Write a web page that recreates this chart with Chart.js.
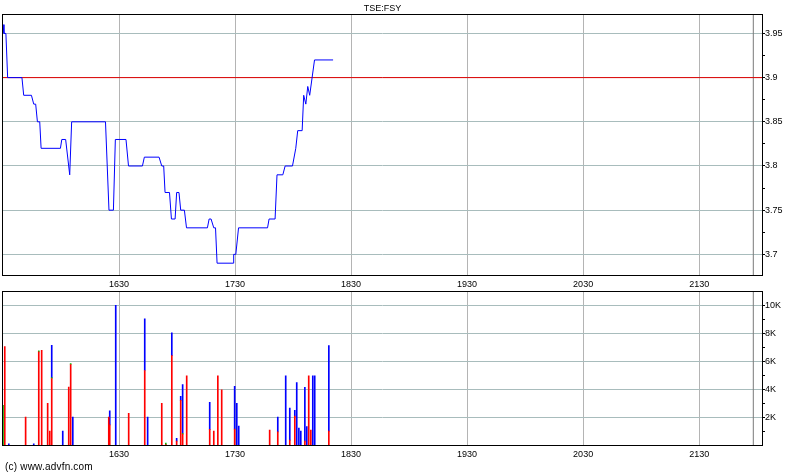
<!DOCTYPE html>
<html>
<head>
    <meta charset="UTF-8">
    <title>TSE:FSY</title>
    <script src="https://cdn.jsdelivr.net/npm/chart.js"></script>
    <style>
        body { margin: 0; background: #fff; width: 800px; height: 475px; position: relative; overflow: hidden; }
        #priceChart { position: absolute; left: 0; top: 0; }
        #volChart { position: absolute; left: 0; top: 286px; }
        #copy {
            position: absolute; left: 5px; top: 461px;
            font: 10px Arial, "Liberation Sans", sans-serif; color: #000; letter-spacing: 0.2px;
        }
    </style>
</head>
<body>
    <canvas id="priceChart" width="800" height="290"></canvas>
    <canvas id="volChart" width="800" height="189"></canvas>
    <div id="copy">(c) www.advfn.com</div>

    <script>
        // цены по сделкам
        const priceTimes = ["15:30:00","15:30:30","15:31:30","15:32:24","15:39:48","15:40:42","15:44:42","15:45:54","15:46:54","15:47:48",
            "15:49:00","15:49:42","15:59:42","16:00:24","16:02:24","16:04:30","16:05:30","16:23:00","16:24:48","16:27:06",
            "16:28:06","16:33:36","16:34:54","16:42:06","16:43:06","16:50:42","16:52:06","16:53:06","16:53:48","16:56:06",
            "16:57:06","16:59:00","16:59:48","17:01:00","17:01:54","17:03:48","17:04:54","17:15:42","17:16:36","17:17:36",
            "17:19:00","17:19:54","17:20:42","17:29:00","17:29:18","17:30:24","17:31:48","17:46:48","17:47:36","17:50:42",
            "17:51:42","17:54:42","17:55:54","17:59:42","18:01:24","18:02:24","18:04:42","18:05:30","18:06:36","18:07:36",
            "18:08:36","18:11:06","18:20:42"];
        const prices = [3.96,3.95,3.95,3.90,3.90,3.88,3.88,3.87,3.87,3.85,
            3.85,3.82,3.82,3.83,3.83,3.79,3.85,3.85,3.75,3.75,
            3.83,3.83,3.80,3.80,3.81,3.81,3.80,3.80,3.77,3.77,
            3.74,3.74,3.77,3.77,3.75,3.75,3.73,3.73,3.74,3.74,
            3.73,3.73,3.69,3.69,3.70,3.70,3.73,3.73,3.74,3.74,
            3.79,3.79,3.80,3.80,3.82,3.84,3.84,3.88,3.87,3.89,
            3.88,3.92,3.92];
        const prevClose = 3.9;

        // объёмы
        const volTimes = ["15:30:00","15:30:55","15:33:00","15:41:42","15:45:54","15:48:30","15:50:00","15:53:06","15:54:12","15:55:12",
            "16:00:54","16:04:00","16:05:00","16:06:06","16:24:42","16:25:12","16:28:18","16:35:00","16:43:18","16:44:48",
            "16:52:06","16:54:12","16:57:18","16:59:48","17:01:54","17:02:54","17:05:00","17:16:54","17:19:00","17:21:06",
            "17:23:06","17:29:48","17:30:54","17:31:54","17:47:54","17:52:06","17:56:12","17:58:18","18:00:54","18:01:54",
            "18:03:00","18:04:00","18:06:06","18:07:06","18:08:06","18:09:12","18:10:12","18:11:12","18:18:30"];
        const volRed = [0,7070,0,2050,0,6700,6800,3040,1060,4800,
            0,4200,5800,0,2050,1500,0,2330,5370,0,
            3040,100,6430,350,3250,850,5000,1180,1060,5000,
            4000,1200,0,0,1130,1000,0,420,2120,0,
            0,0,350,0,5000,1130,0,0,1060];
        const volGreen = [2900,0,0,0,0,80,0,0,0,60,
            0,0,60,0,0,0,0,0,0,0,
            0,100,0,0,0,60,0,0,0,0,
            0,0,0,0,0,0,0,0,0,0,
            0,0,0,0,0,0,0,0,0];
        const volBlue = [0,0,150,0,150,0,0,0,0,2300,
            1060,0,0,2050,0,1000,10000,0,3670,2050,
            0,0,1630,200,280,3460,0,1930,0,0,
            0,3040,3040,1410,0,1060,5000,2280,420,4520,
            1270,1060,3820,1390,0,0,5000,5000,6080];

        // оси
        const timeStart = "15:30";
        const timeEnd = "22:02:30";
        const closeMark = "21:58";
        const timeTicks = ["16:30","17:30","18:30","19:30","20:30","21:30"];
        const priceMin = 3.6755, priceMax = 3.972;
        const priceTicks = [3.7, 3.75, 3.8, 3.85, 3.9, 3.95];
        const priceMinor = [3.725, 3.775, 3.825, 3.875, 3.925];
        const volMax = 11000;
        const volTicks = [2000, 4000, 6000, 8000, 10000];
        const volMinor = [1000, 3000, 5000, 7000, 9000];

        function toMin(t) {
            const p = t.split(":").map(Number);
            return p[0] * 60 + p[1] + (p[2] || 0) / 60;
        }
        function hhmm(v) {
            return Math.floor(v / 60) + String(Math.round(v % 60)).padStart(2, "0");
        }

        const FONT = { family: 'Arial, "Liberation Sans", sans-serif', size: 9 };
        const hGrid = "#a8bcbc";
        const vGrid = "#b4b4b4";

        const frame = {
            id: "frame",
            afterDraw(chart) {
                const a = chart.chartArea, ctx = chart.ctx;
                ctx.save();
                ctx.strokeStyle = "#000";
                ctx.lineWidth = 1;
                ctx.strokeRect(Math.round(a.left) - 0.5, Math.round(a.top) + 0.5,
                    Math.round(a.right - a.left) + 1, Math.round(a.bottom - a.top) - 1);
                ctx.restore();
            }
        };

        function xScale(showLabels, height) {
            return {
                type: "linear",
                min: toMin(timeStart),
                max: toMin(timeEnd),
                offset: false,
                afterBuildTicks: s => { s.ticks = timeTicks.map(t => ({ value: toMin(t) })); },
                afterFit: s => { s.height = height; },
                grid: { color: vGrid, drawTicks: false, offset: false },
                border: { display: false },
                ticks: { display: showLabels, padding: 3, color: "#000", font: FONT, maxRotation: 0,
                         callback: v => hhmm(v) }
            };
        }

        function yScale(min, max, major, minor, fmt) {
            const all = major.concat(minor).sort((a, b) => a - b);
            return {
                position: "right",
                min: min,
                max: max,
                afterBuildTicks: s => { s.ticks = all.map(v => ({ value: v })); },
                afterFit: s => { s.width = 38; },
                grid: {
                    color: c => (c.tick && major.includes(c.tick.value)) ? hGrid : "rgba(0,0,0,0)",
                    tickColor: "#000",
                    tickLength: 3
                },
                border: { display: false },
                ticks: { padding: 0, color: "#000", font: FONT,
                         callback: v => major.includes(v) ? fmt(v) : "" }
            };
        }

        const closeX = toMin(closeMark);

        new Chart(document.getElementById("priceChart"), {
            type: "line",
            data: {
                datasets: [
                    {
                        label: "TSE:FSY",
                        data: priceTimes.map((t, i) => ({ x: toMin(t), y: prices[i] })),
                        borderColor: "#0000ff",
                        borderWidth: 1,
                        pointRadius: 0,
                        tension: 0,
                        order: 0
                    },
                    {
                        label: "prev close",
                        data: [{ x: toMin(timeStart), y: prevClose }, { x: toMin(timeEnd), y: prevClose }],
                        borderColor: "#e00000",
                        borderWidth: 1,
                        pointRadius: 0,
                        order: 1
                    },
                    {
                        label: "close",
                        data: [{ x: closeX, y: priceMin }, { x: closeX, y: priceMax }],
                        borderColor: "#7a7a7a",
                        borderWidth: 1,
                        pointRadius: 0,
                        order: 2
                    }
                ]
            },
            options: {
                responsive: false,
                animation: false,
                devicePixelRatio: 1,
                layout: { padding: { left: 3, top: 0.2, right: 0, bottom: 0 } },
                scales: {
                    x: xScale(true, 14),
                    y: yScale(priceMin, priceMax, priceTicks, priceMinor, v => String(+v.toFixed(3)))
                },
                plugins: {
                    legend: { display: false },
                    tooltip: { enabled: false },
                    title: {
                        display: true,
                        text: "TSE:FSY",
                        fullSize: false,
                        color: "#000",
                        font: { family: FONT.family, size: 9, weight: "normal", lineHeight: 1.2 },
                        padding: { top: 3, bottom: 0 }
                    }
                }
            },
            plugins: [frame]
        });

        function bars(values, color) {
            return {
                type: "bar",
                data: volTimes.map((t, i) => ({ x: toMin(t), y: values[i] })).filter(p => p.y > 0),
                backgroundColor: color,
                barThickness: 1,
                stack: "vol",
                order: 1
            };
        }

        new Chart(document.getElementById("volChart"), {
            type: "bar",
            data: {
                datasets: [
                    bars(volRed, "#ff0000"),
                    bars(volGreen, "#00c000"),
                    bars(volBlue, "#0000ff"),
                    {
                        type: "line",
                        data: [{ x: closeX, y: 0 }, { x: closeX, y: volMax }],
                        borderColor: "#7a7a7a",
                        borderWidth: 1,
                        pointRadius: 0,
                        stack: "mark",
                        order: 2
                    }
                ]
            },
            options: {
                responsive: false,
                animation: false,
                devicePixelRatio: 1,
                layout: { padding: { left: 3, top: 4, right: 0, bottom: 0 } },
                scales: {
                    x: Object.assign(xScale(true, 29), { stacked: true }),
                    y: Object.assign(yScale(0, volMax, volTicks, volMinor, v => (v / 1000) + "K"), { stacked: true })
                },
                plugins: {
                    legend: { display: false },
                    tooltip: { enabled: false }
                }
            },
            plugins: [frame]
        });
    </script>
</body>
</html>
